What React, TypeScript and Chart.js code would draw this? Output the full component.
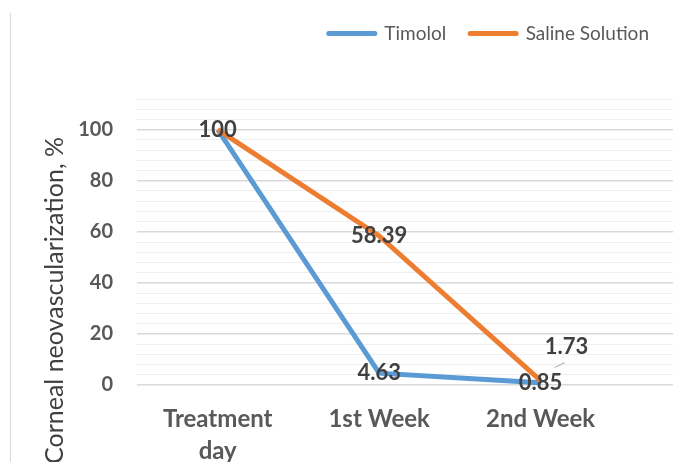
import React, { useEffect, useRef } from "react";
import { Chart, registerables } from "chart.js";

Chart.register(...registerables);

const categories: (string | string[])[] = [["Treatment", "day"], "1st Week", "2nd Week"];
const timolol = [100, 4.63, 0.85];
const saline = [100, 58.39, 1.73];
const seriesNames = ["Timolol", "Saline Solution"];
const yTickLabels = [0, 20, 40, 60, 80, 100];
const yAxisTitle = "Corneal neovascularization, %";

const BLUE = "#5B9BD5";
const ORANGE = "#ED7D31";
const FONT = "Lato, 'Open Sans', sans-serif";

export default function App() {
  const ref = useRef<HTMLCanvasElement>(null);
  useEffect(() => {
    if (!ref.current) return;
    const extras = {
      id: "extras",
      beforeInit(chart: any) {
        const lg = chart.legend;
        if (lg) {
          const fit = lg.fit;
          lg.fit = function () {
            fit.call(this);
            this.height += 46;
          };
        }
      },
      afterDraw(chart: any) {
        const ctx = chart.ctx;
        ctx.save();
        ctx.strokeStyle = "#d9d9d9";
        ctx.lineWidth = 1;
        ctx.beginPath();
        ctx.moveTo(10.5, 13);
        ctx.lineTo(10.5, 462);
        ctx.stroke();
        ctx.translate(55, 137);
        ctx.rotate(-Math.PI / 2);
        ctx.font = `25px ${FONT}`;
        ctx.fillStyle = "#404040";
        ctx.textAlign = "right";
        ctx.textBaseline = "middle";
        ctx.fillText(yAxisTitle, 0, 0);
        ctx.restore();
        ctx.save();
        ctx.font = `bold 22px ${FONT}`;
        ctx.fillStyle = "#404040";
        ctx.textAlign = "center";
        ctx.textBaseline = "middle";
        chart.data.datasets.forEach((ds: any, di: number) => {
          const meta = chart.getDatasetMeta(di);
          meta.data.forEach((pt: any, i: number) => {
            if (di === 1 && i === 0) return;
            const v = ds.data[i].y;
            let dx = 0, dy = 0;
            if (di === 1 && i === 2) {
              dx = 26; dy = -34;
              ctx.save();
              ctx.strokeStyle = "#a6a6a6";
              ctx.lineWidth = 1;
              ctx.beginPath();
              ctx.moveTo(pt.x + 14, pt.y - 13);
              ctx.lineTo(pt.x + 24, pt.y - 18);
              ctx.stroke();
              ctx.restore();
            }
            ctx.fillText(String(v), pt.x + dx, pt.y + dy);
          });
        });
        ctx.restore();
      },
    };
    const chart = new Chart(ref.current, {
      type: "line",
      data: {
        datasets: [
          {
            label: seriesNames[0],
            data: timolol.map((y, i) => ({ x: i, y })),
            borderColor: BLUE,
            backgroundColor: BLUE,
            borderWidth: 5,
            pointRadius: 0,
            pointStyle: "line",
            order: 1,
          },
          {
            label: seriesNames[1],
            data: saline.map((y, i) => ({ x: i, y })),
            borderColor: ORANGE,
            backgroundColor: ORANGE,
            borderWidth: 5,
            pointRadius: 0,
            pointStyle: "line",
            order: 0,
          },
        ],
      },
      plugins: [extras],
      options: {
        responsive: false,
        animation: false,
        layout: { padding: { left: 0, right: 0, top: 0, bottom: 0 } },
        plugins: {
          tooltip: { enabled: false },
          legend: {
            position: "top",
            align: "end",
            labels: {
              usePointStyle: true,
              pointStyleWidth: 46,
              boxHeight: 19,
              padding: 24,
              color: "#595959",
              font: { family: FONT, size: 19 },
              sort: (a: any, b: any) => a.datasetIndex - b.datasetIndex,
              generateLabels: (ch: any) =>
                ch.data.datasets.map((ds: any, i: number) => ({
                  text: ds.label,
                  fillStyle: ds.borderColor,
                  strokeStyle: ds.borderColor,
                  lineWidth: 5,
                  lineCap: "round",
                  pointStyle: "line",
                  datasetIndex: i,
                  hidden: false,
                  fontColor: "#595959",
                })),
            },
          },
        },
        scales: {
          x: {
            type: "linear",
            min: -0.5,
            max: 2.82,
            afterBuildTicks(scale: any) {
              scale.ticks = categories.map((_, i) => ({ value: i }));
            },
            afterFit(scale: any) {
              scale.height = 77;
            },
            ticks: {
              autoSkip: false,
              maxRotation: 0,
              padding: 10,
              color: "#595959",
              font: { family: FONT, size: 24, weight: "bold", lineHeight: 1.33 },
              callback: (v: any) => categories[v as number],
            },
            grid: { display: false },
            border: { display: false },
          },
          y: {
            min: 0,
            max: 112,
            afterBuildTicks(scale: any) {
              const t = [];
              for (let v = 0; v <= 112; v += 4) t.push({ value: v });
              scale.ticks = t;
            },
            afterFit(scale: any) {
              scale.width = 137;
            },
            ticks: {
              autoSkip: false,
              padding: 24,
              color: "#595959",
              font: { family: FONT, size: 20, weight: "bold" },
              callback: (v: any) => (yTickLabels.includes(v) ? String(v) : ""),
            },
            grid: {
              drawTicks: false,
              color: (c: any) => (c.tick && c.tick.value % 20 === 0 ? "#d9d9d9" : "#efefef"),
              lineWidth: (c: any) => (c.tick && c.tick.value % 20 === 0 ? 1.5 : 1),
            },
            border: { display: false },
          },
        },
      },
    });
    return () => chart.destroy();
  }, []);
  return (
    <div style={{ position: "fixed", left: 0, top: 0, width: 673, height: 462, background: "#fff" }}>
      <canvas ref={ref} width={673} height={462} />
    </div>
  );
}
